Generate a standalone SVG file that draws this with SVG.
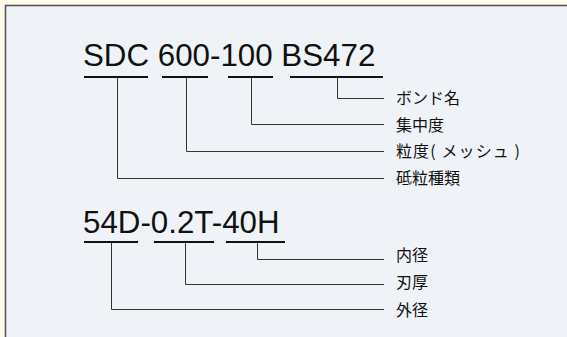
<svg xmlns="http://www.w3.org/2000/svg" width="567" height="337" viewBox="0 0 567 337">
<style>
.code{font-family:"Liberation Sans",Arial,Helvetica,sans-serif;font-size:31.3px;fill:#111}
.lbl{font-family:"Noto Sans CJK JP","Noto Sans",sans-serif;font-size:16px;fill:#111}
.ul{stroke:#111;stroke-width:2;fill:none}
.con{stroke:#333;stroke-width:1;fill:none}
</style>
<rect x="0" y="0" width="567" height="337" fill="#fffbea"/>
<rect x="5.5" y="5.5" width="600" height="400" fill="#eff3f7" stroke="#555" stroke-width="1.6"/>
<g id="code1">
<text class="code" x="83" y="66">SDC 600-100 BS472</text>
<path class="ul" d="M84,77H148M162,77H208M228,77H273M290,77H383"/>
</g>
<g id="code2">
<text class="code" x="83" y="233">54D-0.2T-40H</text>
<path class="ul" d="M84,242H138M154,242H214M226,242H285"/>
</g>
<g id="connectors">
<path class="con" d="M117.5,78V178.5H384"/>
<path class="con" d="M186.5,78V151.5H384"/>
<path class="con" d="M251.5,78V124.5H384"/>
<path class="con" d="M337.5,78V98.5H384"/>
<path class="con" d="M111.5,243V309.5H384"/>
<path class="con" d="M185.5,243V284.5H384"/>
<path class="con" d="M257.5,243V259.5H384"/>
</g>
<g id="label-bond"><text class="lbl" x="396" y="104">ボンド名</text></g>
<g id="label-concentration"><text class="lbl" x="396" y="131">集中度</text></g>
<g id="label-grit"><text class="lbl" x="396" y="157" textLength="124" lengthAdjust="spacing">粒度( メッシュ )</text></g>
<g id="label-abrasive"><text class="lbl" x="396" y="184">砥粒種類</text></g>
<g id="label-inner"><text class="lbl" x="396" y="261">内径</text></g>
<g id="label-thickness"><text class="lbl" x="396" y="288">刃厚</text></g>
<g id="label-outer"><text class="lbl" x="396" y="316">外径</text></g>
</svg>
